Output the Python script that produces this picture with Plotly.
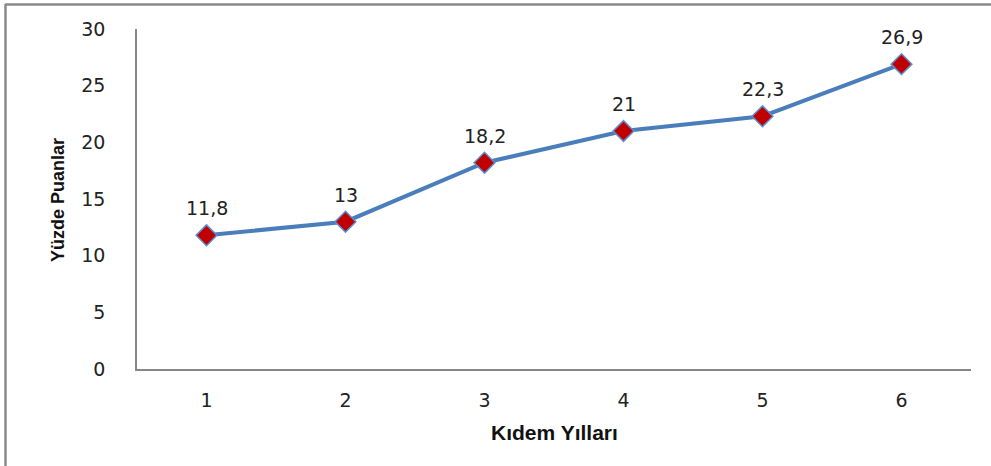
import plotly.graph_objects as go

# Seniority years and percentage points
years = [1, 2, 3, 4, 5, 6]
points = [11.8, 13, 18.2, 21, 22.3, 26.9]
y_ticks = [0, 5, 10, 15, 20, 25, 30]

# Value labels use a decimal comma
point_labels = [f"{v:g}".replace(".", ",") for v in points]

W, H = 991, 466
L, R, T, B = 137, 20, 29, 97
pw, ph = W - L - R, H - T - B

def px_x(px):
    return (px - L) / pw

def px_y(py):
    return (H - B - py) / ph

TICK_FONT = dict(family="DejaVu Sans", size=19, color="#222222")

fig = go.Figure()
fig.add_trace(go.Scatter(
    x=years, y=points,
    mode="lines+markers",
    line=dict(color="#4a7ebb", width=4),
    marker=dict(symbol="diamond", size=16, color="#c00000",
                line=dict(color="#5b8fd0", width=1.5)),
    cliponaxis=False,
    showlegend=False,
))

annotations = [
    dict(x=xv, y=yv, text=lab, xref="x", yref="y", showarrow=False,
         xanchor="center", yanchor="middle", yshift=27, font=TICK_FONT)
    for xv, yv, lab in zip(years, points, point_labels)
]
annotations += [
    dict(text="<b>Kıdem Yılları</b>", xref="paper", yref="paper",
         x=px_x(554), y=px_y(432), xanchor="center", yanchor="middle",
         showarrow=False,
         font=dict(family="Liberation Sans", size=21, color="#111111")),
    dict(text="<b>Yüzde Puanlar</b>", xref="paper", yref="paper",
         x=px_x(58), y=px_y(200), xanchor="center", yanchor="middle",
         showarrow=False, textangle=-90,
         font=dict(family="Liberation Sans", size=18, color="#111111")),
]

fig.update_layout(
    width=W, height=H,
    margin=dict(l=L, r=R, t=T, b=B),
    paper_bgcolor="white", plot_bgcolor="white",
    xaxis=dict(
        range=[0.5, 6.5], tickvals=years, ticktext=[str(v) for v in years],
        showgrid=False, zeroline=False, showline=True, linecolor="#868686",
        linewidth=1.5, ticks="", ticklabelstandoff=13, tickfont=TICK_FONT,
    ),
    yaxis=dict(
        range=[0, 30], tickvals=y_ticks,
        showgrid=False, zeroline=False, showline=True, linecolor="#868686",
        linewidth=1.5, ticks="", ticklabelstandoff=26, tickfont=TICK_FONT,
    ),
    shapes=[
        dict(type="line", xref="paper", yref="paper",
             x0=px_x(5), x1=px_x(991), y0=px_y(4.5), y1=px_y(4.5),
             line=dict(color="#8a8a8a", width=2.5)),
        dict(type="line", xref="paper", yref="paper",
             x0=px_x(5.5), x1=px_x(5.5), y0=px_y(4), y1=px_y(466),
             line=dict(color="#8a8a8a", width=2.5)),
    ],
    annotations=annotations,
)

fig.write_html("out.html")
